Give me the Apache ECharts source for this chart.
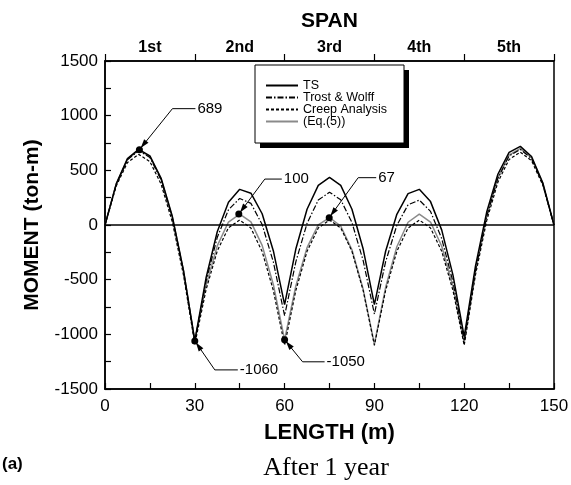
<!DOCTYPE html>
<html>
<head>
<meta charset="utf-8">
<script src="https://cdn.jsdelivr.net/npm/echarts@6/dist/echarts.min.js"></script>
<style>
  html, body { margin: 0; padding: 0; background: #fff; }
  #myChart { width: 571px; height: 485px; }
</style>
</head>
<body>
<div id="myChart"></div>
<script>
// values: moment (ton-m) along the 5-span girder, length in m
const lengths = [0, 3.75, 7.5, 11.25, 15, 18.75, 22.5, 26.25, 30,
  33.75, 37.5, 41.25, 45, 48.75, 52.5, 56.25, 60,
  63.75, 67.5, 71.25, 75, 78.75, 82.5, 86.25, 90,
  93.75, 97.5, 101.25, 105, 108.75, 112.5, 116.25, 120,
  123.75, 127.5, 131.25, 135, 138.75, 142.5, 146.25, 150];
const tsMoment = [0, 376, 607, 692, 632, 427, 77, -419, -1060,
  -485, -62, 208, 326, 291, 103, -237, -729,
  -220, 144, 362, 435, 362, 144, -220, -729,
  -240, 98, 287, 326, 214, -47, -459, -1020,
  -378, 116, 464, 665, 719, 626, 387, 0];
const trostMoment = [0, 370, 596, 679, 618, 412, 64, -429, -1065,
  -515, -114, 139, 243, 198, 4, -339, -830,
  -337, 15, 228, 300, 231, 23, -326, -815,
  -336, -3, 185, 228, 124, -125, -520, -1060,
  -419, 77, 427, 632, 692, 607, 376, 0];
const creepMoment = [0, 356, 571, 646, 580, 373, 26, -462, -1090,
  -593, -238, -25, 45, -28, -243, -600, -1100,
  -599, -241, -27, 45, -27, -241, -599, -1100,
  -599, -241, -27, 45, -27, -241, -599, -1100,
  -459, 38, 391, 600, 666, 588, 366, 0];
const eq5Moment = [0, 373, 601, 685, 625, 420, 71, -422, -1060,
  -553, -191, 27, 100, 29, -186, -546, -1050,
  -558, -207, 1, 67, -9, -227, -588, -1090,
  -570, -199, 25, 100, 27, -194, -563, -1080,
  -429, 75, 431, 640, 701, 615, 381, 0];
const spanLabels = ['1st', '2nd', '3rd', '4th', '5th'];
// marked values with callouts
const calloutX = [11.5, 30, 44.7, 60, 74.9];
const calloutY = [689, -1060, 100, -1050, 67];
const calloutText = ['689', '-1060', '100', '-1050', '67'];

const FONT = '"Liberation Sans", Arial, sans-serif';
const pairs = ys => lengths.map((x, i) => [x, ys[i]]);

const chart = echarts.init(document.getElementById('myChart'), null, {renderer: 'canvas'});

const axisBase = {
  axisLine: {show: true, onZero: false, lineStyle: {color: '#000', width: 1.5}},
  splitLine: {show: false},
  nameMoveOverlap: false
};

// legend frame with its hard black drop shadow
const legendFrame = [
  {type: 'rect', silent: true, z: 20, shape: {x: 260, y: 70, width: 149, height: 78}, style: {fill: '#000'}},
  {type: 'rect', silent: true, z: 21, shape: {x: 255, y: 65, width: 149, height: 78},
    style: {fill: '#fff', stroke: '#000', lineWidth: 1}},
  {type: 'text', left: 2, top: 456,
    style: {text: '(a)', font: 'bold 17px ' + FONT, fill: '#000'}},
  {type: 'text', x: 326, y: 468,
    style: {text: 'After 1 year', font: '26px "Liberation Serif", "Times New Roman", serif',
      fill: '#000', align: 'center', verticalAlign: 'middle'}}
];

const option = {
  animation: false,
  backgroundColor: '#fff',
  grid: {
    left: 105, right: 17, top: 61, bottom: 96,
    show: true, borderColor: '#000', borderWidth: 1.5,
    containLabel: false, outerBoundsMode: 'none'
  },
  legend: {
    data: ['TS', 'Trost & Wolff', 'Creep Analysis', '(Eq.(5))'],
    orient: 'vertical',
    left: 265, top: 79,
    padding: 0,
    itemWidth: 32, itemHeight: 10, itemGap: -1,
    itemStyle: {color: 'rgba(0,0,0,0)', borderWidth: 0, opacity: 0},
    textStyle: {fontFamily: FONT, fontSize: 12.5, color: '#000'},
    selectedMode: false,
    z: 30
  },
  xAxis: [
    Object.assign({}, axisBase, {
      type: 'value', position: 'bottom',
      min: 0, max: 150, interval: 30,
      name: 'LENGTH (m)', nameLocation: 'middle', nameGap: 33,
      nameTextStyle: {fontFamily: FONT, fontWeight: 'bold', fontSize: 22, color: '#000'},
      axisTick: {show: true, inside: true, length: 6, lineStyle: {color: '#000', width: 1.2}},
      minorTick: {show: true, splitNumber: 2, length: 6, lineStyle: {color: '#000', width: 1.2}},
      axisLabel: {fontFamily: FONT, fontSize: 17, color: '#000', margin: 9}
    }),
    Object.assign({}, axisBase, {
      type: 'category', position: 'top', data: spanLabels, boundaryGap: true,
      name: 'SPAN', nameLocation: 'middle', nameGap: 29,
      nameTextStyle: {fontFamily: FONT, fontWeight: 'bold', fontSize: 21, color: '#000'},
      axisTick: {show: true, inside: false, length: 7, alignWithLabel: false, lineStyle: {color: '#000', width: 1.2}},
      axisLabel: {fontFamily: FONT, fontWeight: 'bold', fontSize: 16, color: '#000', margin: 5}
    })
  ],
  yAxis: Object.assign({}, axisBase, {
    type: 'value', min: -1500, max: 1500, interval: 500,
    name: 'MOMENT (ton-m)', nameLocation: 'middle', nameGap: 62, nameRotate: 90,
    nameTextStyle: {fontFamily: FONT, fontWeight: 'bold', fontSize: 21, color: '#000'},
    axisTick: {show: true, inside: true, length: 6, lineStyle: {color: '#000', width: 1.2}},
    minorTick: {show: true, splitNumber: 2, length: 6, lineStyle: {color: '#000', width: 1.2}},
    axisLabel: {fontFamily: FONT, fontSize: 17, color: '#000', margin: 7, formatter: v => String(v)}
  }),
  series: [
    {
      name: 'TS', type: 'line', data: pairs(tsMoment), symbol: 'none',
      lineStyle: {color: '#000', width: 1.5, type: 'solid'}, itemStyle: {color: '#000'},
      markLine: {
        silent: true, symbol: 'none', label: {show: false},
        lineStyle: {color: '#000', width: 1.5, type: 'solid'},
        data: [{yAxis: 0}]
      },
      z: 4
    },
    {
      name: 'Trost & Wolff', type: 'line', data: pairs(trostMoment), symbol: 'none',
      lineStyle: {color: '#000', width: 1.2, type: [6, 2, 1.5, 2]}, itemStyle: {color: '#000'},
      z: 3
    },
    {
      name: 'Creep Analysis', type: 'line', data: pairs(creepMoment), symbol: 'none',
      lineStyle: {color: '#000', width: 1.2, type: [3, 2]}, itemStyle: {color: '#000'},
      z: 3
    },
    {
      name: '(Eq.(5))', type: 'line', data: pairs(eq5Moment), symbol: 'none',
      lineStyle: {color: '#8a8a8a', width: 1.5, type: 'solid'}, itemStyle: {color: '#8a8a8a'},
      z: 2
    },
    {
      name: 'marks', type: 'scatter', silent: true,
      data: calloutX.map((x, i) => [x, calloutY[i]]),
      symbolSize: 7, itemStyle: {color: '#000', opacity: 1}, z: 6
    }
  ],
  graphic: legendFrame
};

chart.setOption(option);

// leader lines with arrows pointing at the marked values
function drawCallouts() {
  // [bend dx, bend dy, horizontal run] in pixels, relative to the marked point
  const bends = [[33, -41, 23], [20, 29, 23], [26, -35, 17], [18, 22, 22], [29, -40, 18]];
  const items = [];
  calloutX.forEach((x, i) => {
    const p = chart.convertToPixel({xAxisIndex: 0, yAxisIndex: 0}, [x, calloutY[i]]);
    const b = [p[0] + bends[i][0], p[1] + bends[i][1]];
    const e = [b[0] + bends[i][2], b[1]];
    const len = Math.hypot(p[0] - b[0], p[1] - b[1]);
    const ux = (p[0] - b[0]) / len, uy = (p[1] - b[1]) / len;
    const tip = [p[0] - ux * 2, p[1] - uy * 2];
    const base = [tip[0] - ux * 9, tip[1] - uy * 9];
    items.push({
      type: 'polyline', silent: true, z: 100,
      shape: {points: [tip, b, e]},
      style: {stroke: '#000', lineWidth: 1, fill: null}
    });
    items.push({
      type: 'polygon', silent: true, z: 100,
      shape: {points: [tip, [base[0] - uy * 2.8, base[1] + ux * 2.8], [base[0] + uy * 2.8, base[1] - ux * 2.8]]},
      style: {fill: '#000'}
    });
    items.push({
      type: 'text', silent: true, z: 100, x: e[0] + 2, y: e[1],
      style: {text: calloutText[i], font: '15px ' + FONT, fill: '#000', align: 'left', verticalAlign: 'middle'}
    });
  });
  chart.setOption({graphic: legendFrame.concat(items)});
}
drawCallouts();
</script>
</body>
</html>
